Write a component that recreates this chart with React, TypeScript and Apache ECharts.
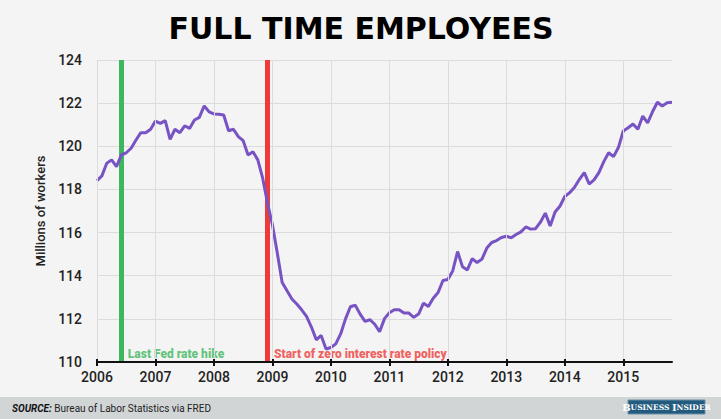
import React, { useEffect, useRef } from "react";
import * as echarts from "echarts";

// Full-time employees, millions (monthly, seasonally adjusted)
const years = [2006, 2007, 2008, 2009, 2010, 2011, 2012, 2013, 2014, 2015];
const v2006 = [118.4, 118.63, 119.21, 119.37, 119.06, 119.6, 119.7, 119.91, 120.29, 120.63, 120.63, 120.79];
const v2007 = [121.17, 121.06, 121.19, 120.32, 120.79, 120.63, 120.95, 120.83, 121.22, 121.34, 121.87, 121.6];
const v2008 = [121.5, 121.48, 121.45, 120.72, 120.79, 120.45, 120.26, 119.6, 119.75, 119.37, 118.52, 117.36];
const v2009 = [116.36, 115.05, 113.69, 113.3, 112.92, 112.69, 112.42, 112.11, 111.62, 111.03, 111.23, 110.6];
const v2010 = [110.67, 110.84, 111.3, 112.0, 112.56, 112.63, 112.22, 111.88, 111.96, 111.75, 111.4, 112.01];
const v2011 = [112.28, 112.42, 112.42, 112.27, 112.27, 112.07, 112.22, 112.73, 112.57, 112.96, 113.22, 113.78];
const v2012 = [113.82, 114.22, 115.12, 114.42, 114.27, 114.79, 114.61, 114.77, 115.28, 115.54, 115.63, 115.77];
const v2013 = [115.83, 115.76, 115.91, 116.03, 116.26, 116.16, 116.18, 116.48, 116.9, 116.31, 116.95, 117.22];
const v2014 = [117.67, 117.85, 118.1, 118.47, 118.78, 118.25, 118.44, 118.78, 119.29, 119.7, 119.52, 119.94];
const v2015 = [120.71, 120.86, 121.03, 120.79, 121.4, 121.09, 121.6, 122.04, 121.87, 122.02, 122.04];
const yearValues = [v2006, v2007, v2008, v2009, v2010, v2011, v2012, v2013, v2014, v2015];

// Event markers
const eventMonths = ["2006-06", "2008-12"];
const eventLabels = ["Last Fed rate hike", "Start of zero interest rate policy"];
const eventColors = ["#3db65e", "#ef3a3a"];

// Y axis
const yMin = 110;
const yMax = 124;
const yStep = 2;

const title = "FULL TIME EMPLOYEES";
const yName = "Millions of workers";
const sourceText = "Bureau of Labor Statistics via FRED";

export default function App() {
  const ref = useRef<HTMLDivElement>(null);

  useEffect(() => {
    if (!ref.current) return;
    const chart = echarts.init(ref.current, undefined, { renderer: "svg" });

    const categories: string[] = [];
    const values: number[] = [];
    years.forEach((y, yi) => {
      yearValues[yi].forEach((v, mi) => {
        categories.push(`${y}-${String(mi + 1).padStart(2, "0")}`);
        values.push(v);
      });
    });

    const isJan = (_i: number, v: string) => typeof v === "string" && v.endsWith("-01");

    chart.setOption({
      animation: false,
      backgroundColor: "#f4f4f4",
      grid: { left: 97, right: 49, top: 60, bottom: 57 },
      xAxis: [
        {
          type: "category",
          data: categories,
          boundaryGap: false,
          axisLine: { show: true, lineStyle: { color: "#111", width: 2 } },
          axisTick: { show: true, interval: isJan, length: 4, lineStyle: { color: "#111", width: 2 } },
          axisLabel: {
            show: true,
            interval: isJan,
            formatter: (v: string) => v.slice(0, 4),
            margin: 8,
            color: "#222",
            fontFamily: "Roboto",
            fontWeight: 500,
            fontSize: 14,
          },
          splitLine: { show: true, interval: isJan, lineStyle: { color: "#dcdcdc", width: 1 } },
          z: 5,
        },
        {
          type: "category",
          data: categories,
          boundaryGap: false,
          position: "bottom",
          axisLine: { show: false },
          axisTick: { show: true, inside: true, interval: isJan, length: 3, lineStyle: { color: "#111", width: 2 } },
          axisLabel: { show: false },
          splitLine: { show: false },
          z: 5,
        },
      ],
      yAxis: {
        type: "value",
        min: yMin,
        max: yMax,
        interval: yStep,
        name: yName,
        nameLocation: "middle",
        nameRotate: 90,
        nameGap: 37,
        nameTextStyle: { color: "#222", fontFamily: "Roboto", fontSize: 13, fontWeight: 500 },
        axisLine: { show: false },
        axisTick: { show: false },
        axisLabel: { margin: 15, color: "#222", fontFamily: "Roboto", fontWeight: 500, fontSize: 14 },
        splitLine: { show: true, lineStyle: { color: "#dcdcdc", width: 1 } },
      },
      series: [
        {
          type: "line",
          data: [],
          z: 1,
          silent: true,
          markLine: {
            silent: true,
            symbol: ["none", "none"],
            label: { show: false },
            z: 1,
            data: eventMonths.map((m, i) => ({
              xAxis: m,
              lineStyle: { color: eventColors[i], width: 5, type: "solid" },
            })),
          },
        },
        {
          type: "line",
          data: values,
          z: 3,
          showSymbol: false,
          symbol: "none",
          lineStyle: { color: "#7753c4", width: 3 },
          silent: true,
        },
        {
          type: "scatter",
          z: 4,
          silent: true,
          symbolSize: 1,
          itemStyle: { color: "rgba(0,0,0,0)" },
          data: eventMonths.map((m, i) => ({
            name: eventLabels[i],
            value: [m, yMin],
            label: {
              show: true,
              formatter: "{b}",
              position: [7, -8],
              align: "left",
              verticalAlign: "middle",
              color: eventColors[i],
              fontFamily: "Roboto",
              fontWeight: 900,
              fontSize: 12,
            },
          })),
        },
      ],
      graphic: [
        {
          type: "text",
          x: 361,
          y: 28,
          style: {
            text: title,
            align: "center",
            verticalAlign: "middle",
            fill: "#000",
            font: "bold 30px 'DejaVu Sans'",
          },
        },
        {
          type: "rect",
          shape: { x: 0, y: 397, width: 721, height: 22 },
          style: { fill: "#d2d5d6" },
          z: 0,
        },
        {
          type: "text",
          x: 12,
          y: 408,
          style: {
            text: `{b|SOURCE:} ${sourceText}`,
            verticalAlign: "middle",
            fill: "#222",
            font: "10px Roboto",
            rich: {
              b: { font: "italic bold 10px Roboto", fill: "#111" },
            },
          },
        },
        {
          type: "rect",
          shape: { x: 628, y: 400, width: 77, height: 14 },
          style: { fill: "#235b7e", stroke: "#6a90aa", lineWidth: 1 },
        },
        {
          type: "text",
          x: 666.5,
          y: 407.5,
          style: {
            text: "{c|B}{s|USINESS }{c|I}{s|NSIDER}",
            align: "center",
            verticalAlign: "middle",
            rich: {
              c: { font: "bold 10px 'DejaVu Serif'", fill: "#fff" },
              s: { font: "bold 7.5px 'DejaVu Serif'", fill: "#fff" },
            },
          },
        },
      ],
    });

    return () => chart.dispose();
  }, []);

  return (
    <div
      ref={ref}
      style={{ position: "fixed", left: 0, top: 0, width: 721, height: 419 }}
    />
  );
}
